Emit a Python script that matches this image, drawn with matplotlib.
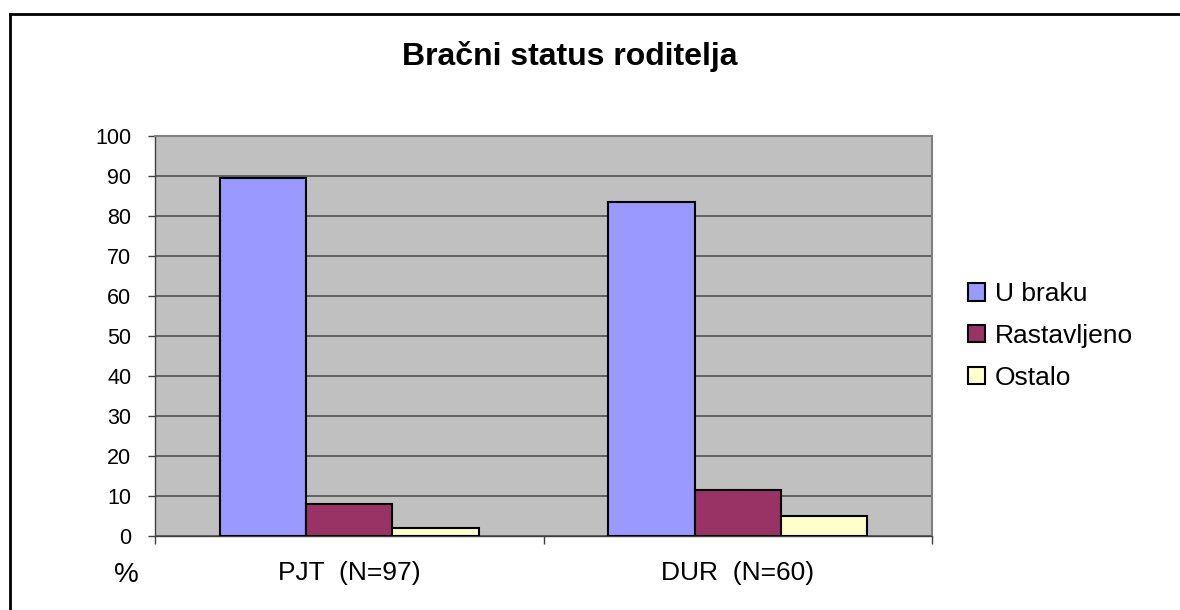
import matplotlib
matplotlib.use("Agg")
import matplotlib.pyplot as plt
from matplotlib.patches import Patch
from matplotlib.lines import Line2D
import numpy as np

plt.rcParams['font.family'] = ['Liberation Sans', 'DejaVu Sans']

title = "Bračni status roditelja"
categories = ["PJT  (N=97)", "DUR  (N=60)"]
series_names = ["U braku", "Rastavljeno", "Ostalo"]
u_braku = [89.4, 83.5]
rastavljeno = [7.9, 11.5]
ostalo = [2.0, 5.0]
colors = ["#9999FF", "#993366", "#FFFFCC"]
yticks = [0, 10, 20, 30, 40, 50, 60, 70, 80, 90, 100]

W, H = 1180, 610
fig = plt.figure(figsize=(W / 100, H / 100), dpi=100)
fig.patch.set_facecolor("white")

ax = fig.add_axes([155 / W, 1 - 536 / H, (932 - 155) / W, (536 - 136) / H])
ax.set_facecolor("#C0C0C0")

x = np.arange(len(categories))
w = 1 / 4.5
for i, (vals, c) in enumerate(zip([u_braku, rastavljeno, ostalo], colors)):
    ax.bar(x + (i - 1) * w, vals, width=w, color=c, edgecolor="black",
           linewidth=1.5, zorder=3, label=series_names[i])

ax.set_xlim(-0.5, len(categories) - 0.5)
ax.set_ylim(0, 100)
ax.set_yticks(yticks)
ax.set_yticklabels([str(v) for v in yticks], fontsize=15.5)
ax.yaxis.grid(True, color="#5a5a5a", linewidth=1.3, zorder=1)
ax.set_axisbelow(True)

ax.set_xticks([-0.5, 0.5, 1.5])
ax.set_xticklabels([])
ax.set_xticks(x, minor=True)
ax.set_xticklabels(categories, minor=True, fontsize=19)
ax.tick_params(axis="x", which="major", length=6, width=1, color="#404040", direction="out")
ax.tick_params(axis="x", which="minor", length=0, pad=18)
ax.tick_params(axis="y", length=5, width=1, color="#404040", direction="out", pad=12)

for s in ["top", "right"]:
    ax.spines[s].set_color("#808080")
    ax.spines[s].set_linewidth(1.5)
for s in ["left", "bottom"]:
    ax.spines[s].set_color("#404040")
    ax.spines[s].set_linewidth(1.0)

fig.text(570 / W, 1 - 57 / H, title, ha="center", va="center",
         fontsize=23, fontweight="bold")
fig.text(126 / W, 1 - 575 / H, "%", ha="center", va="center", fontsize=20)

handles = [Patch(facecolor=c, edgecolor="black", linewidth=1.5) for c in colors]
fig.legend(handles, series_names, loc="upper left",
           bbox_to_anchor=(968 / W, 1 - 282 / H), frameon=False,
           fontsize=19, handlelength=0.65, handleheight=0.65,
           handletextpad=0.38, labelspacing=0.68, borderpad=0, borderaxespad=0)

# partial outer border (top and left)
fig.add_artist(Line2D([10 / W, 1], [1 - 14 / H, 1 - 14 / H], color="black",
                      linewidth=2, transform=fig.transFigure))
fig.add_artist(Line2D([10 / W, 10 / W], [0, 1 - 14 / H], color="black",
                      linewidth=2, transform=fig.transFigure))

fig.savefig("out.png", dpi=100)
